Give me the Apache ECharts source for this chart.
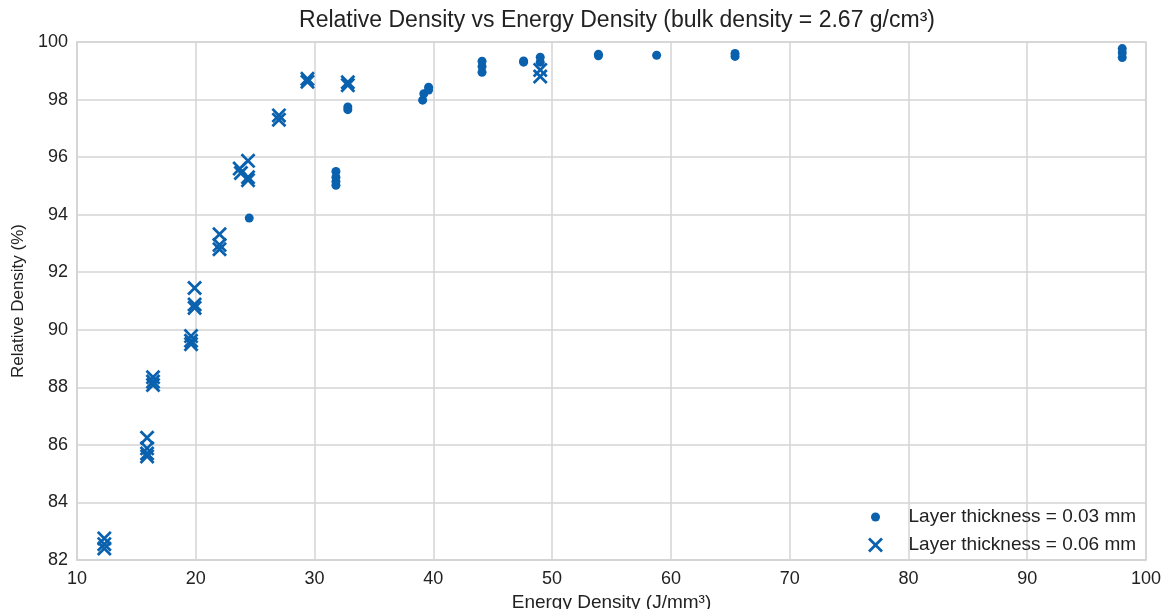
<!DOCTYPE html>
<html>
<head>
<meta charset="utf-8">
<script src="https://cdn.jsdelivr.net/npm/echarts@6/dist/echarts.min.js"></script>
<style>
  html, body { margin: 0; padding: 0; background: #fff; }
  #chart { width: 1169px; height: 609px; }
</style>
</head>
<body>
<div id="chart"></div>
<script>
// layer thickness = 0.03 mm
const thin = [
  [24.5, 93.88],
  [31.8, 95.5], [31.8, 95.3], [31.8, 95.15], [31.8, 95.02],
  [32.8, 97.74], [32.8, 97.65],
  [39.1, 97.98], [39.2, 98.2], [39.6, 98.43], [39.6, 98.33],
  [44.1, 99.33], [44.1, 99.15], [44.1, 98.95],
  [47.6, 99.34], [47.6, 99.3],
  [49.0, 99.47], [49.0, 99.3],
  [53.9, 99.57], [53.9, 99.52],
  [58.8, 99.54],
  [65.4, 99.6], [65.4, 99.5],
  [98.0, 99.77], [98.0, 99.63], [98.0, 99.46]
]

// layer thickness = 0.06 mm
const thick = [
  [12.3, 82.75], [12.3, 82.55], [12.3, 82.4],
  [15.9, 86.25], [15.9, 85.88], [15.9, 85.7], [15.9, 85.6],
  [16.4, 88.35], [16.4, 88.2], [16.4, 88.08],
  [19.6, 89.78], [19.6, 89.62], [19.6, 89.5],
  [19.9, 91.45], [19.9, 90.88], [19.9, 90.76],
  [22.0, 93.32], [22.0, 92.95], [22.0, 92.8],
  [23.7, 95.6], [23.8, 95.45],
  [24.4, 95.87], [24.4, 95.3], [24.4, 95.2],
  [27.0, 97.45], [27.0, 97.3],
  [29.4, 98.72], [29.4, 98.62],
  [32.8, 98.6], [32.8, 98.5],
  [49.0, 99.03], [49.0, 98.8]
]

const seriesNames = ['Layer thickness = 0.03 mm', 'Layer thickness = 0.06 mm']
const blue = '#0a61ae'
const gridColor = '#d4d4d4'
const font = '"Liberation Sans", Arial, sans-serif'
const crossPath = 'path://M0,2.6L2.6,0L10,7.4L17.4,0L20,2.6L12.6,10L20,17.4L17.4,20L10,12.6L2.6,20L0,17.4L7.4,10Z'

const chart = echarts.init(document.getElementById('chart'))

const legendText = {
  fontFamily: font,
  fontSize: 19,
  lineHeight: 20,
  color: '#222',
  padding: [0, 0, 0, 20]
}

chart.setOption({
  animation: false,
  title: {
    text: 'Relative Density vs Energy Density (bulk density = 2.67 g/cm³)',
    left: 612,
    textAlign: 'center',
    top: 4,
    textStyle: { fontFamily: font, fontSize: 23, fontWeight: 'normal', color: '#222' }
  },
  grid: {
    left: 77, right: 23, top: 42, bottom: 49,
    outerBoundsMode: 'none',
    containLabel: false,
    show: true, borderColor: gridColor, borderWidth: 1.5
  },
  legend: [
    {
      data: [{ name: seriesNames[0], icon: 'circle' }],
      left: 871, top: 507, padding: 0,
      itemWidth: 16, itemHeight: 9,
      textStyle: legendText
    },
    {
      data: [{ name: seriesNames[1], icon: crossPath }],
      left: 868, top: 535, padding: 0,
      itemWidth: 16, itemHeight: 15,
      textStyle: legendText
    }
  ],
  xAxis: {
    type: 'value',
    min: 10, max: 100, interval: 10,
    name: 'Energy Density (J/mm³)',
    nameLocation: 'middle',
    nameGap: 33,
    nameTextStyle: { fontFamily: font, fontSize: 19, color: '#222' },
    axisLine: { show: true, lineStyle: { color: gridColor, width: 1.5 } },
    axisTick: { show: false },
    axisLabel: { fontFamily: font, fontSize: 18, color: '#222', margin: 10 },
    splitLine: { show: true, lineStyle: { color: gridColor, width: 1.5 } }
  },
  yAxis: {
    type: 'value',
    min: 82, max: 100, interval: 2,
    name: 'Relative Density (%)',
    nameLocation: 'middle',
    nameGap: 47,
    nameRotate: 90,
    nameTextStyle: { fontFamily: font, fontSize: 17, color: '#222' },
    axisLine: { show: true, lineStyle: { color: gridColor, width: 1.5 } },
    axisTick: { show: false },
    axisLabel: { fontFamily: font, fontSize: 18, color: '#222', margin: 9 },
    splitLine: { show: true, lineStyle: { color: gridColor, width: 1.5 } }
  },
  series: [
    {
      name: seriesNames[0],
      type: 'scatter',
      data: thin,
      symbol: 'circle',
      symbolSize: 9,
      itemStyle: { color: blue, opacity: 1 }
    },
    {
      name: seriesNames[1],
      type: 'scatter',
      data: thick,
      symbol: crossPath,
      symbolSize: 15,
      itemStyle: { color: blue, opacity: 1 }
    }
  ]
})
</script>
</body>
</html>
